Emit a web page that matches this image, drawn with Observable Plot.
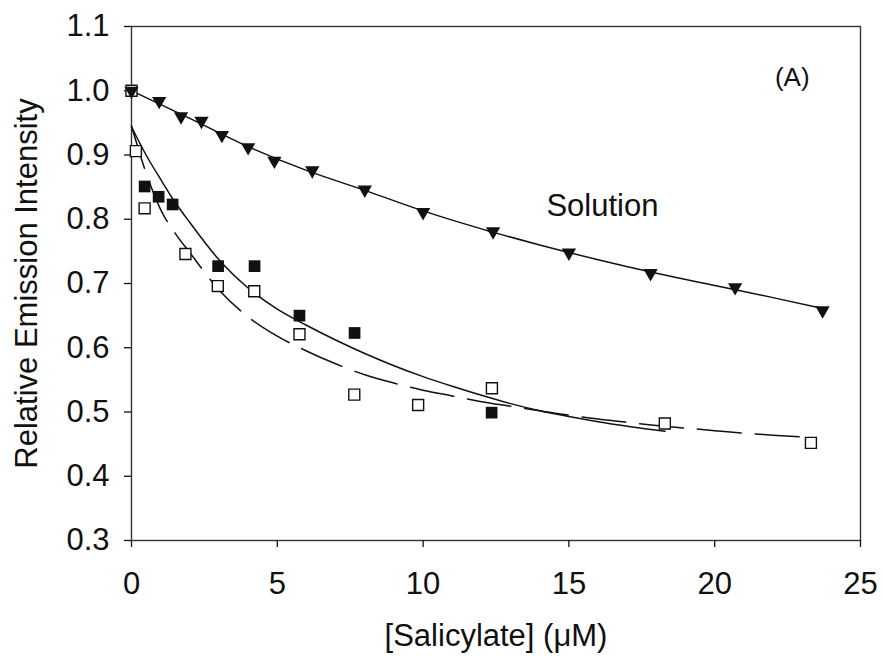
<!DOCTYPE html>
<html>
<head>
<meta charset="utf-8">
<script src="https://cdn.jsdelivr.net/npm/d3@7"></script>
<script src="https://cdn.jsdelivr.net/npm/@observablehq/plot@0.6"></script>
<style>
  html, body { margin: 0; padding: 0; background: #fff; }
  #chart { width: 882px; height: 660px; }
</style>
</head>
<body>
<div id="chart"></div>
<script>
// ---- Data ----
const xTicks = [0, 5, 10, 15, 20, 25];
const yTicks = [0.3, 0.4, 0.5, 0.6, 0.7, 0.8, 0.9, 1.0, 1.1];
const xLabel = "[Salicylate] (\u03BCM)";
const yLabel = "Relative Emission Intensity";
const solutionLabel = "Solution";
const panelLabel = "(A)";

// Solution (filled down-triangles)
const solutionX = [0, 0.95, 1.7, 2.4, 3.1, 4.0, 4.9, 6.2, 8.0, 10.0, 12.4, 15.0, 17.8, 20.7, 23.7];
const solutionY = [1.0, 0.984, 0.96, 0.953, 0.931, 0.912, 0.891, 0.876, 0.846, 0.811, 0.781, 0.748, 0.716, 0.694, 0.658];
// Solution fitted curve
const fitSolutionX = [0, 2, 4, 6, 8, 10, 12, 14, 16, 18, 20, 22, 23.7];
const fitSolutionY = [1.0, 0.957, 0.913, 0.876, 0.845, 0.813, 0.785, 0.760, 0.737, 0.716, 0.697, 0.678, 0.661];

// Filled squares
const filledX = [0.45, 0.93, 1.41, 2.97, 4.22, 5.76, 7.65, 12.35];
const filledY = [0.851, 0.835, 0.823, 0.727, 0.727, 0.650, 0.623, 0.499];
// Filled-square fitted curve (solid)
const fitFilledX = [0, 0.5, 1, 1.5, 2, 3, 4, 5, 6, 7, 8, 9, 10, 11, 12, 13, 14, 15, 16, 17, 18.3];
const fitFilledY = [0.944, 0.900, 0.862, 0.826, 0.795, 0.737, 0.693, 0.660, 0.635, 0.612, 0.591, 0.572, 0.555, 0.540, 0.526, 0.513, 0.502, 0.493, 0.485, 0.478, 0.470];

// Open squares
const openX = [0, 0.15, 0.45, 1.85, 2.96, 4.21, 5.76, 7.64, 9.83, 12.36, 18.29, 23.3];
const openY = [1.0, 0.906, 0.817, 0.746, 0.696, 0.688, 0.621, 0.527, 0.511, 0.537, 0.482, 0.452];
// Open-square fitted curve (dashed)
const fitOpenX = [0, 0.5, 1, 1.5, 2, 3, 4, 5, 6, 7, 8, 9, 10, 11, 12, 13, 14, 15, 16, 17, 18, 19, 20, 21, 22, 23];
const fitOpenY = [0.945, 0.872, 0.815, 0.778, 0.748, 0.690, 0.648, 0.618, 0.595, 0.575, 0.558, 0.545, 0.534, 0.525, 0.516, 0.509, 0.502, 0.495, 0.489, 0.484, 0.479, 0.475, 0.471, 0.467, 0.464, 0.461];

// ---- Build tables ----
const zip = (xs, ys) => xs.map((x, i) => ({x, y: ys[i]}));
const solution = zip(solutionX, solutionY);
const fitSolution = zip(fitSolutionX, fitSolutionY);
const filled = zip(filledX, filledY);
const fitFilled = zip(fitFilledX, fitFilledY);
const open = zip(openX, openY);
const fitOpen = zip(fitOpenX, fitOpenY);

const font = "'Liberation Sans', Arial, Helvetica, sans-serif";

const chart = Plot.plot({
  width: 882,
  height: 660,
  marginLeft: 131,
  marginRight: 22,
  marginTop: 26,
  marginBottom: 120,
  style: { fontFamily: font, fontSize: "31px", color: "#111", background: "#fff" },
  x: { domain: [0, 25] },
  y: { domain: [0.3, 1.1] },
  marks: [
    Plot.frame({ stroke: "#333", strokeWidth: 1.4 }),
    Plot.axisX({ ticks: xTicks, tickSize: 7, tickPadding: 24, label: null, fontSize: 31, strokeWidth: 1.3 }),
    Plot.axisY({ ticks: yTicks, tickSize: 7, tickPadding: 15, tickFormat: d3.format(".1f"), label: null, fontSize: 31, strokeWidth: 1.3 }),
    Plot.line(fitSolution, { x: "x", y: "y", curve: "monotone-x", stroke: "#111", strokeWidth: 1.5 }),
    Plot.line(fitFilled, { x: "x", y: "y", curve: "monotone-x", stroke: "#111", strokeWidth: 1.5 }),
    Plot.line(fitOpen, { x: "x", y: "y", curve: "monotone-x", stroke: "#111", strokeWidth: 1.5, strokeDasharray: "44,14" }),
    Plot.dot(open, { x: "x", y: "y", symbol: "square", r: 6.2, fill: "white", stroke: "#111", strokeWidth: 1.4 }),
    Plot.dot(filled, { x: "x", y: "y", symbol: "square", r: 6.6, fill: "#111", stroke: "none" }),
    Plot.dot(solution, { x: "x", y: "y", symbol: "triangle", rotate: 180, r: 5.3, fill: "#111", stroke: "none" }),
    Plot.text([solutionLabel], { x: 16.15, y: 0.8206, text: d => d, fontSize: 31, fill: "#111", textAnchor: "middle", lineAnchor: "middle" }),
    Plot.text([panelLabel], { x: 22.66, y: 1.021, text: d => d, fontSize: 26, fill: "#111", textAnchor: "middle", lineAnchor: "middle" }),
    Plot.text([yLabel], { frameAnchor: "left", dx: -104, rotate: -90, text: d => d, fontSize: 31, fill: "#111", textAnchor: "middle", lineAnchor: "middle" }),
    Plot.text([xLabel], { frameAnchor: "bottom", dy: 96, text: d => d, fontSize: 31, fill: "#111", textAnchor: "middle", lineAnchor: "middle" })
  ]
});
document.getElementById("chart").appendChild(chart);
</script>
</body>
</html>
